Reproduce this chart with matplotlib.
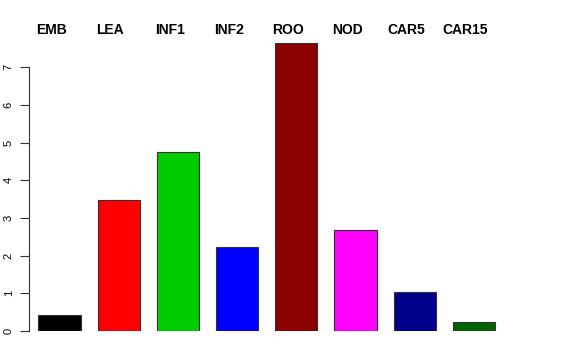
import matplotlib
matplotlib.use("Agg")
import matplotlib.pyplot as plt
import matplotlib.transforms as mtransforms
import numpy as np

# data
labels = ["EMB", "LEA", "INF1", "INF2", "ROO", "NOD", "CAR5", "CAR15"]
values = [0.42, 3.48, 4.74, 2.23, 7.64, 2.68, 1.04, 0.25]
colors = ["#000000", "#FF0000", "#00CD00", "#0000FF",
          "#8B0000", "#FF00FF", "#00008B", "#006400"]
yticks = [0, 1, 2, 3, 4, 5, 6, 7]

plt.rcParams['font.family'] = ['Liberation Sans', 'DejaVu Sans']

fig = plt.figure(figsize=(5.76, 3.6), dpi=100)
ax = fig.add_axes([0.0509, 0.0806, 0.8335, 0.8266])

x = np.arange(len(labels))
ax.bar(x, values, width=0.71, color=colors, edgecolor="#333333", linewidth=0.8)

ax.set_xlim(-0.51, 7.6)
ax.set_ylim(0, 7.9)

for side in ["top", "right", "bottom"]:
    ax.spines[side].set_visible(False)
ax.spines["left"].set_bounds(0, 7)
ax.spines["left"].set_color("#333333")
ax.set_xticks([])
ax.set_yticks(yticks)
ax.set_yticklabels([str(t) for t in yticks], rotation=90, va="center")
ax.tick_params(axis="y", length=6.2, width=0.8, pad=5, labelsize=8,
               color="#333333")

# category labels along the top
trans = mtransforms.blended_transform_factory(ax.transData, fig.transFigure)
for xi, lab in zip(x, labels):
    ax.text(xi - 0.14, 1 - 30 / 360, lab, transform=trans, ha="center",
            va="center", fontsize=10, fontweight="bold")

fig.savefig("out.png", dpi=100)
